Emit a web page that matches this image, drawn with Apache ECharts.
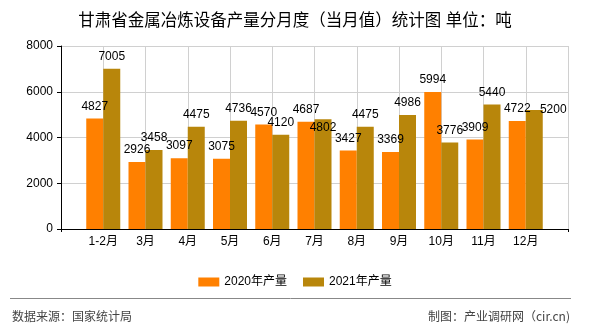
<!DOCTYPE html>
<html>
<head>
<meta charset="utf-8">
<script src="https://cdn.jsdelivr.net/npm/echarts@6/dist/echarts.min.js"></script>
<style>html,body{margin:0;padding:0;background:#fff}#c{width:590px;height:330px}</style>
</head>
<body>
<div id="c"></div>
<script>
var categories = ['', '1-2月', '3月', '4月', '5月', '6月', '7月', '8月', '9月', '10月', '11月', '12月', ''];
var series2020 = [null, 4827, 2926, 3097, 3075, 4570, 4687, 3427, 3369, 5994, 3909, 4722, null];
var series2021 = [null, 7005, 3458, 4475, 4736, 4120, 4802, 4475, 4986, 3776, 5440, 5200, null];
var seriesNames = ['2020年产量', '2021年产量'];
var yTicks = {min: 0, max: 8000, interval: 2000};

var FONT = '"Liberation Sans", "Noto Sans CJK SC", sans-serif';
var offsets2021 = {6: [0, 21], 11: [19, 12]};

function build(vals, offs) {
  return vals.map(function (v, i) {
    if (v === null) return '-';
    if (offs && offs[i]) return {value: v, label: {offset: offs[i]}};
    return v;
  });
}

var chart = echarts.init(document.getElementById('c'), null, {renderer: 'canvas'});
chart.setOption({
  backgroundColor: '#fff',
  animation: false,
  title: {
    text: '甘肃省金属冶炼设备产量分月度（当月值）统计图 单位：吨',
    left: 'center', top: 8,
    textStyle: {fontSize: 16.5, fontWeight: 'normal', color: '#000', fontFamily: FONT}
  },
  legend: {
    data: seriesNames,
    top: 271, left: 'center',
    itemWidth: 21, itemHeight: 9, itemGap: 16,
    icon: 'rect',
    textStyle: {fontSize: 12, color: '#000', fontFamily: FONT}
  },
  grid: {left: 61, right: 22, top: 46, bottom: 101},
  xAxis: {
    type: 'category',
    data: categories,
    boundaryGap: false,
    axisLine: {lineStyle: {color: '#000', width: 1}},
    axisTick: {show: true, length: 3, lineStyle: {color: '#000'},
      interval: function (i) { return i === 0 || i === categories.length - 1; }},
    axisLabel: {color: '#000', fontSize: 12, margin: 7, fontFamily: FONT, interval: 0},
    splitLine: {show: true, lineStyle: {color: '#d0d0d0', width: 1}}
  },
  yAxis: {
    type: 'value',
    min: yTicks.min, max: yTicks.max, interval: yTicks.interval,
    axisLine: {show: true, lineStyle: {color: '#000', width: 1}},
    axisTick: {show: true, length: 4, lineStyle: {color: '#000'}},
    axisLabel: {color: '#000', fontSize: 12, margin: 8, fontFamily: FONT,
      formatter: function (v) { return String(v); }},
    splitLine: {show: true, lineStyle: {color: '#d0d0d0', width: 1}}
  },
  series: [
    {
      name: seriesNames[0], type: 'bar',
      data: build(series2020),
      barWidth: 17, barGap: '0%',
      itemStyle: {color: '#FF8000'},
      label: {show: true, position: 'top', distance: 6, color: '#000', fontSize: 12, fontFamily: FONT}
    },
    {
      name: seriesNames[1], type: 'bar',
      data: build(series2021, offsets2021),
      barWidth: 17, barGap: '0%',
      itemStyle: {color: '#B8860B'},
      label: {show: true, position: 'top', distance: 6, color: '#000', fontSize: 12, fontFamily: FONT}
    }
  ],
  graphic: [
    {type: 'line', shape: {x1: 10, y1: 298.5, x2: 571, y2: 298.5}, style: {stroke: '#888', lineWidth: 1}},
    {type: 'text', left: 12, top: 310, style: {text: '数据来源：国家统计局', fill: '#444', font: '12px "Noto Sans CJK SC", sans-serif'}},
    {type: 'text', right: 20, top: 310, style: {text: '制图：产业调研网（cir.cn)', fill: '#444', font: '12px "Noto Sans CJK SC", sans-serif'}}
  ]
});
</script>
</body>
</html>
